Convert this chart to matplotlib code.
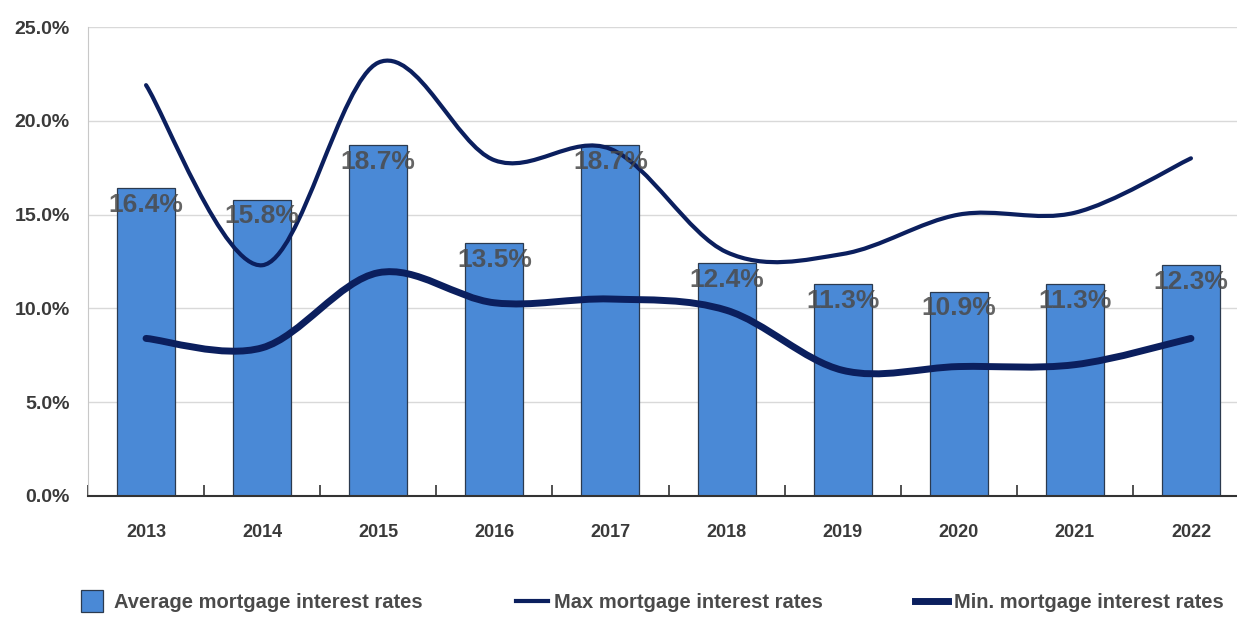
import numpy as np
import matplotlib.pyplot as plt
from matplotlib.path import Path
from matplotlib.patches import PathPatch
from matplotlib.lines import Line2D
from matplotlib.ticker import FuncFormatter, FixedLocator

years = ['2013', '2014', '2015', '2016', '2017', '2018', '2019', '2020', '2021', '2022']
avg_rates = [16.4, 15.8, 18.7, 13.5, 18.7, 12.4, 11.3, 10.9, 11.3, 12.3]
max_rates = [21.9, 12.3, 23.1, 17.9, 18.5, 13.0, 12.9, 15.0, 15.1, 18.0]
min_rates = [8.4, 7.9, 11.9, 10.3, 10.5, 9.9, 6.7, 6.9, 7.0, 8.4]

BAR_COLOR = '#4a89d6'
BAR_EDGE = '#2b3a4f'
LINE_COLOR = '#0b1f5e'
TEXT_COLOR = '#3a3a3a'

plt.rcParams['font.family'] = ['Liberation Sans', 'DejaVu Sans']


def smooth_path(xs, ys):
    # Catmull-Rom style bezier through every point, like a "smoothed line" chart
    pts = np.column_stack([xs, ys]).astype(float)
    ext = np.vstack([pts[0], pts, pts[-1]])
    verts = [pts[0]]
    codes = [Path.MOVETO]
    for i in range(len(pts) - 1):
        p0, p1, p2, p3 = ext[i], ext[i + 1], ext[i + 2], ext[i + 3]
        c1 = p1 + (p2 - p0) / 6.0
        c2 = p2 - (p3 - p1) / 6.0
        verts += [c1, c2, p2]
        codes += [Path.CURVE4] * 3
    return Path(verts, codes)


fig = plt.figure(figsize=(12.37, 6.17), dpi=100)
ax = fig.add_axes([88 / 1237, 121 / 617, 1161 / 1237, 469 / 617])

x = np.arange(len(years))
ax.bar(x, avg_rates, width=0.5, color=BAR_COLOR, edgecolor=BAR_EDGE, linewidth=0.9, zorder=2)

for xi, v in zip(x, avg_rates):
    ax.text(xi, v - 0.9, f'{v:.1f}%', ha='center', va='center', fontsize=19,
            fontweight='bold', color='#4a4a4a', alpha=0.85, zorder=4)

ax.add_patch(PathPatch(smooth_path(x, max_rates), fill=False, edgecolor=LINE_COLOR,
                       linewidth=3.0, capstyle='round', zorder=3))
ax.add_patch(PathPatch(smooth_path(x, min_rates), fill=False, edgecolor=LINE_COLOR,
                       linewidth=5.0, capstyle='round', zorder=3))

ax.set_xlim(-0.5, 9.5)
ax.set_ylim(0, 25)

ax.set_yticks(np.arange(0, 26, 5))
ax.yaxis.set_major_formatter(FuncFormatter(lambda v, p: f'{v:.1f}%'))
ax.grid(axis='y', color='#d9d9d9', linewidth=1.0, zorder=0)
ax.axhline(25, color='#c8c8c8', linewidth=1.4, linestyle=(0, (4, 1)), zorder=1)
ax.tick_params(axis='y', length=0, pad=13, labelsize=14, labelcolor=TEXT_COLOR)

ax.set_xticks(x)
ax.set_xticklabels(years)
ax.tick_params(axis='x', which='major', length=0, pad=20, labelsize=13, labelcolor=TEXT_COLOR)
ax.xaxis.set_minor_locator(FixedLocator(np.arange(-0.5, 10, 1.0)))
ax.tick_params(axis='x', which='minor', direction='in', length=8, width=1.2, color='#333333')
for lbl in ax.get_xticklabels() + ax.get_yticklabels():
    lbl.set_fontweight('bold')

for side in ['top', 'right']:
    ax.spines[side].set_visible(False)
ax.spines['left'].set_color('#c8c8c8')
ax.spines['bottom'].set_color('#333333')
ax.spines['bottom'].set_linewidth(1.5)

handles = [
    Line2D([], [], marker='s', markersize=16, linestyle='none',
           markerfacecolor=BAR_COLOR, markeredgecolor=BAR_EDGE, markeredgewidth=0.9),
    Line2D([], [], color=LINE_COLOR, linewidth=3.0),
    Line2D([], [], color=LINE_COLOR, linewidth=5.0),
]
names = ['Average mortgage interest rates', 'Max mortgage interest rates',
         'Min. mortgage interest rates']
leg = fig.legend(handles, names, loc='center left', bbox_to_anchor=(68 / 1237, 1 - 603 / 617),
                 ncol=3, frameon=False, numpoints=1, handlelength=1.6, handletextpad=0.3,
                 columnspacing=4.6, borderaxespad=0, prop={'size': 14.5, 'weight': 'bold'})
for t in leg.get_texts():
    t.set_color('#4a4a4a')

fig.savefig('out.png', dpi=100)
